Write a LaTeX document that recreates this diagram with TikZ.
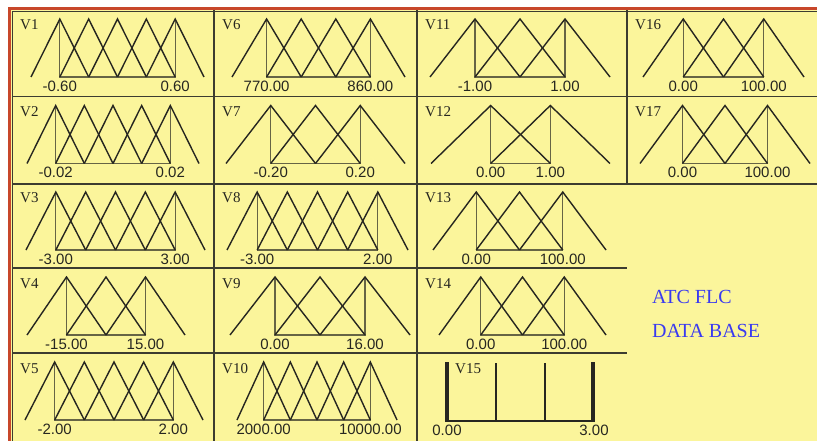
\documentclass[tikz,border=0pt]{standalone}
\usepackage{fontspec}
\setmainfont{Liberation Serif}
\setsansfont{Liberation Sans}
\definecolor{panel}{HTML}{FBF59B}
\definecolor{rimred}{HTML}{C8472A}
\definecolor{gridc}{HTML}{3C3C30}
\definecolor{curve}{HTML}{262620}
\definecolor{titleblue}{HTML}{3A3AF0}

\begin{document}
\begin{tikzpicture}[x=1pt, y=-1pt,
    gridline/.style={draw=gridc, line width=1.5pt},
    mf/.style={draw=curve, line width=1.4pt},
    rim/.style={draw=curve!70!panel, line width=1.2pt},
    vname/.style={font=\fontsize{15}{15}\selectfont, text=curve, anchor=base west, inner sep=0pt},
    tick/.style={font=\sffamily\fontsize{15}{15}\selectfont, text=curve, anchor=base, inner sep=0pt},
    dbtext/.style={font=\fontsize{20}{20}\selectfont, text=titleblue, anchor=base west, inner sep=0pt}]
    \useasboundingbox (0,0) rectangle (817,441);
    \fill[white] (0,0) rectangle (817,441);
    \fill[panel] (11,9) rectangle (817,441);
    % grid of cells
    \draw[gridline] (214,10) -- (214,441);
    \draw[gridline] (417,10) -- (417,441);
    \draw[gridline] (627,10) -- (627,184);
    \draw[gridline] (12,96.5) -- (817,96.5);
    \draw[gridline] (12,184) -- (817,184);
    \draw[gridline] (12,268) -- (627,268);
    \draw[gridline] (12,353) -- (627,353);
    % membership functions: name/row top/cell left/left foot/right foot/count/low/high
    \foreach \nm/\rt/\cl/\lf/\rf/\n/\lo/\hi in {
        1/10/12/31/204/5/-0.60/0.60,
        2/96.5/12/27/199/5/-0.02/0.02,
        3/183/12/26/205/5/-3.00/3.00,
        4/268/12/27/185/3/-15.00/15.00,
        5/353/12/25/203/5/-2.00/2.00,
        6/10/214/232/405/4/770.00/860.00,
        7/96.5/214/226/405/3/-0.20/0.20,
        8/183/214/227/408/5/-3.00/2.00,
        9/268/214/230/410/3/0.00/16.00,
        10/353/214/237/397/5/2000.00/10000.00,
        11/10/417/430/610/3/-1.00/1.00,
        12/96.5/417/431/610/2/0.00/1.00,
        13/183/417/433/606/3/0.00/100.00,
        14/268/417/439/606/3/0.00/100.00,
        16/10/627/643/804/3/0.00/100.00,
        17/96.5/627/640/810/3/0.00/100.00} {
      \pgfmathsetmacro{\dd}{(\rf-\lf)/(\n+1)}
      \pgfmathsetmacro{\pk}{\rt+9}
      \pgfmathsetmacro{\bs}{\rt+67}
      \pgfmathsetmacro{\pa}{\lf+\dd}
      \pgfmathsetmacro{\pb}{\rf-\dd}
      \draw[rim] (\pa,\pk) -- (\pa,\bs) -- (\pb,\bs) -- (\pb,\pk);
      \foreach \k in {1,...,\n} {
        \draw[mf] ({\lf+(\k-1)*\dd},\bs) -- ({\lf+\k*\dd},\pk) -- ({\lf+(\k+1)*\dd},\bs);
      }
      \node[vname] (v\nm) at (\cl+8,\rt+20) {V\nm};
      \node[tick] (lo\nm) at (\pa,\bs+14.5) {\lo};
      \node[tick] (hi\nm) at (\pb,\bs+14.5) {\hi};
    }
    % singletons
    \draw[curve, line width=1.3pt] (447,421) -- (593,421);
    \draw[curve, line width=1.3pt] (496,363) -- (496,421);
    \draw[curve, line width=1.3pt] (545,363) -- (545,421);
    \draw[curve, line width=4pt] (447,362) -- (447,422);
    \draw[curve, line width=4pt] (593,362) -- (593,422);
    \node[vname] (v15) at (455,373) {V15};
    \node[tick] (lo15) at (447,435) {0.00};
    \node[tick] (hi15) at (594,435) {3.00};
    \node[dbtext] (atc) at (652,303) {ATC FLC};
    \node[dbtext] (dbase) at (652,337) {DATA BASE};
    % window frame
    \draw[gridc, line width=1pt] (12,441) -- (12,11.5) -- (817,11.5);
    \draw[rimred, line width=3pt] (9.5,441) -- (9.5,8.5) -- (817,8.5);
\end{tikzpicture}
\end{document}
